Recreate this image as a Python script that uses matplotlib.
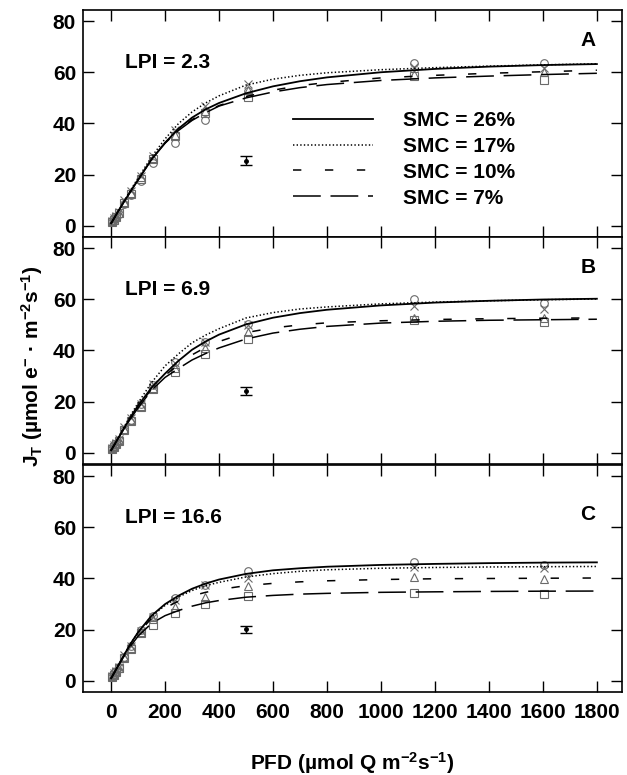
import matplotlib
matplotlib.use('Agg')
import matplotlib.pyplot as plt

plt.rcParams['font.family'] = ['Liberation Sans', 'DejaVu Sans']
plt.rcParams['font.weight'] = 'bold'
plt.rcParams['font.size'] = 15
plt.rcParams['mathtext.fontset'] = 'custom'
plt.rcParams['mathtext.rm'] = 'Liberation Sans:bold'
plt.rcParams['mathtext.bf'] = 'Liberation Sans:bold'
plt.rcParams['mathtext.it'] = 'Liberation Sans:bold'
plt.rcParams['mathtext.default'] = 'bf'
plt.rcParams['lines.scale_dashes'] = False

# measured points (PFD levels)
pfd = [5, 12, 20, 28, 48, 72, 110, 157, 237, 347, 507, 1122, 1605]

a_26 = [1.5, 2.5, 3.5, 4.5, 8.5, 12, 17.5, 24.5, 32.3, 41.5, 52.5, 63.6, 63.6]
a_17 = [2, 3, 4, 5.5, 10, 13.5, 19.5, 27.5, 37.5, 47, 55.5, 62, 61.5]
a_10 = [1.8, 3, 4, 5, 9.5, 13, 19, 26.5, 35.5, 45, 53, 59.5, 60]
a_7 = [1.5, 2.5, 3.5, 5, 9, 12.5, 18.5, 26, 35, 44, 50.5, 58.5, 57]

b_26 = [1.5, 2.5, 3.5, 5, 9, 13, 19, 26.5, 35.5, 43.5, 50.5, 60.1, 58.5]
b_17 = [2, 3, 4, 5.5, 10, 13.5, 19, 27, 35, 43.5, 50, 57.5, 56.2]
b_10 = [1.8, 2.8, 4, 5, 9.5, 12.8, 18.5, 25.5, 33, 41, 47.1, 52.8, 52.5]
b_7 = [1.5, 2.5, 3.5, 4.5, 9, 12.5, 18, 25, 31.6, 38.5, 44.5, 52, 51]

c_26 = [1.5, 2.5, 4, 5.5, 9.5, 13.5, 19.9, 25.5, 32.3, 37.5, 43, 46.3, 45.3]
c_17 = [2, 3, 4, 5.5, 10, 13.8, 19.5, 25, 31.5, 37.5, 40, 44.3, 44]
c_10 = [1.8, 2.8, 4, 5.2, 9.5, 13, 19, 24, 29, 32.9, 37, 40.4, 39.8]
c_7 = [1.5, 2.5, 3.5, 5, 9, 12.5, 18.6, 21.9, 26.4, 30, 33.2, 34.4, 33.9]

# fitted curves
pfd_fit = [0, 25, 50, 75, 100, 150, 200, 250, 300, 350, 400, 500, 600, 700, 800,
           1000, 1200, 1400, 1600, 1800]

fit_a_26 = [1, 5.5, 9.8, 14, 18, 26, 32.5, 38, 42.3, 45.5, 48, 51.8, 54.5, 56.5, 58,
            60, 61.3, 62.2, 62.8, 63.2]
fit_a_17 = [1, 5.5, 10, 14.5, 18.7, 27, 34, 40, 44.5, 48, 50.8, 55, 57.3, 58.8, 59.8,
            61, 61.8, 62.4, 62.9, 63.3]
fit_a_10 = [1, 5.5, 9.8, 14, 18, 26, 32.5, 37.5, 41.5, 44.5, 47, 50.5, 53, 54.8, 56,
            57.8, 58.8, 59.6, 60.2, 60.8]
fit_a_7 = [1, 5.5, 9.8, 14, 18, 26, 32.3, 37.3, 41.2, 44.2, 46.8, 50, 52.3, 54, 55.2,
           56.8, 57.8, 58.5, 59.1, 59.6]

fit_b_26 = [1, 5.5, 10, 14.5, 18.5, 25.5, 31, 36, 40.3, 43.5, 46.2, 50.2, 52.8, 54.6,
            55.9, 57.6, 58.7, 59.4, 59.9, 60.2]
fit_b_17 = [1, 5.7, 10.5, 15.2, 19.5, 27.5, 34, 38.7, 43, 46, 48.5, 52.7, 54.8, 56.2,
            57, 58.2, 58.9, 59.4, 59.8, 60.1]
fit_b_10 = [1, 5.5, 10, 14, 18, 25, 30.3, 34.5, 38.3, 41.2, 43.5, 47, 48.8, 50, 50.8,
            51.6, 52.1, 52.4, 52.6, 52.7]
fit_b_7 = [1, 5.5, 9.8, 13.8, 17.6, 24.5, 29.5, 33, 36.3, 38.8, 41, 44.5, 46.8, 48.3,
           49.4, 50.7, 51.4, 51.8, 52, 52.2]

fit_c_26 = [1, 5.8, 10.5, 15, 19, 25.5, 30, 33.3, 36, 38, 39.6, 41.8, 43.2, 44, 44.6,
            45.3, 45.7, 46, 46.2, 46.3]
fit_c_17 = [1, 5.8, 10.5, 15, 19, 25.2, 29.5, 32.8, 35.3, 37.2, 38.5, 40.6, 41.9, 42.8,
            43.4, 44, 44.3, 44.5, 44.6, 44.7]
fit_c_10 = [1, 5.8, 10.5, 14.8, 18.5, 24.5, 28.5, 31.2, 33.2, 34.6, 35.7, 37.2, 38.1,
            38.7, 39.1, 39.6, 39.9, 40, 40.1, 40.2]
fit_c_7 = [1, 5.6, 10, 14, 17.5, 22.5, 25.5, 27.5, 29.2, 30.5, 31.4, 32.7, 33.4, 33.9,
           34.2, 34.6, 34.8, 34.95, 35.05, 35.1]

# error bar (mean SE shown in each panel)
err_x = [500, 500, 500]
err_y = [25.5, 24.2, 20.2]
err_e = [1.7, 1.7, 1.3]

lpi = ['LPI = 2.3', 'LPI = 6.9', 'LPI = 16.6']
letters = ['A', 'B', 'C']
smc_labels = ['SMC = 26%', 'SMC = 17%', 'SMC = 10%', 'SMC = 7%']
line_styles = ['-', (0, (1, 1.6)), (0, (6, 17)), (0, (20, 7))]
marker_styles = ['o', 'x', '^', 's']

panels = [
    ([a_26, a_17, a_10, a_7], [fit_a_26, fit_a_17, fit_a_10, fit_a_7]),
    ([b_26, b_17, b_10, b_7], [fit_b_26, fit_b_17, fit_b_10, fit_b_7]),
    ([c_26, c_17, c_10, c_7], [fit_c_26, fit_c_17, fit_c_10, fit_c_7]),
]

fig = plt.figure(figsize=(6.27, 7.75), dpi=100)
left, width, height = 0.1324, 0.8596, 0.2929
bottoms = [0.6942, 0.4013, 0.1071]

for i, (points, fits) in enumerate(panels):
    ax = fig.add_axes([left, bottoms[i], width, height])
    handles = []
    for j in range(4):
        ax.plot(pfd, points[j], linestyle='none', marker=marker_styles[j], ms=5.5,
                mfc='none', mec='#6a6a6a', mew=0.8, zorder=2)
        ln, = ax.plot(pfd_fit, fits[j], color='black', lw=1.3 if j == 0 else 1.1,
                      linestyle=line_styles[j], zorder=3)
        handles.append(ln)
    ax.errorbar([err_x[i]], [err_y[i]], yerr=[err_e[i]], fmt='o', ms=2.5,
                color='black', elinewidth=1, capsize=4.5, capthick=1, zorder=4)
    ax.text(50, 64, lpi[i], ha='left', va='center', fontsize=15, fontweight='bold')
    ax.text(1795, 72.5 if i < 2 else 64.8, letters[i], ha='right', va='center',
            fontsize=15, fontweight='bold')

    ax.set_xlim(-104, 1893)
    ax.set_ylim(-4.3, 84.3)
    ax.set_xticks(range(0, 1801, 200))
    ax.set_yticks(range(0, 81, 20))
    ax.tick_params(direction='in', length=8, width=1, top=True, right=True,
                   labelsize=15, pad=5)
    ax.tick_params(axis='x', pad=8)
    for s in ax.spines.values():
        s.set_linewidth(1.2)
    if i < 2:
        ax.tick_params(labelbottom=False)
    else:
        ax.set_xlabel('PFD (µmol Q m$^{-2}$s$^{-1}$)', fontsize=15,
                      fontweight='bold', labelpad=20)
    if i == 0:
        ax.legend(handles, smc_labels, loc='upper left', bbox_to_anchor=(0.39, 0.555),
                  frameon=False, handlelength=3.85, handletextpad=1.4,
                  labelspacing=0.33, borderpad=0, borderaxespad=0, fontsize=15)

fig.text(0.051, 1 - 366 / 775, 'J$_{T}$ (µmol e$^{-}$ · m$^{-2}$s$^{-1}$)',
         rotation=90, ha='center', va='center', fontsize=15, fontweight='bold')

fig.savefig('out.png', dpi=100)
